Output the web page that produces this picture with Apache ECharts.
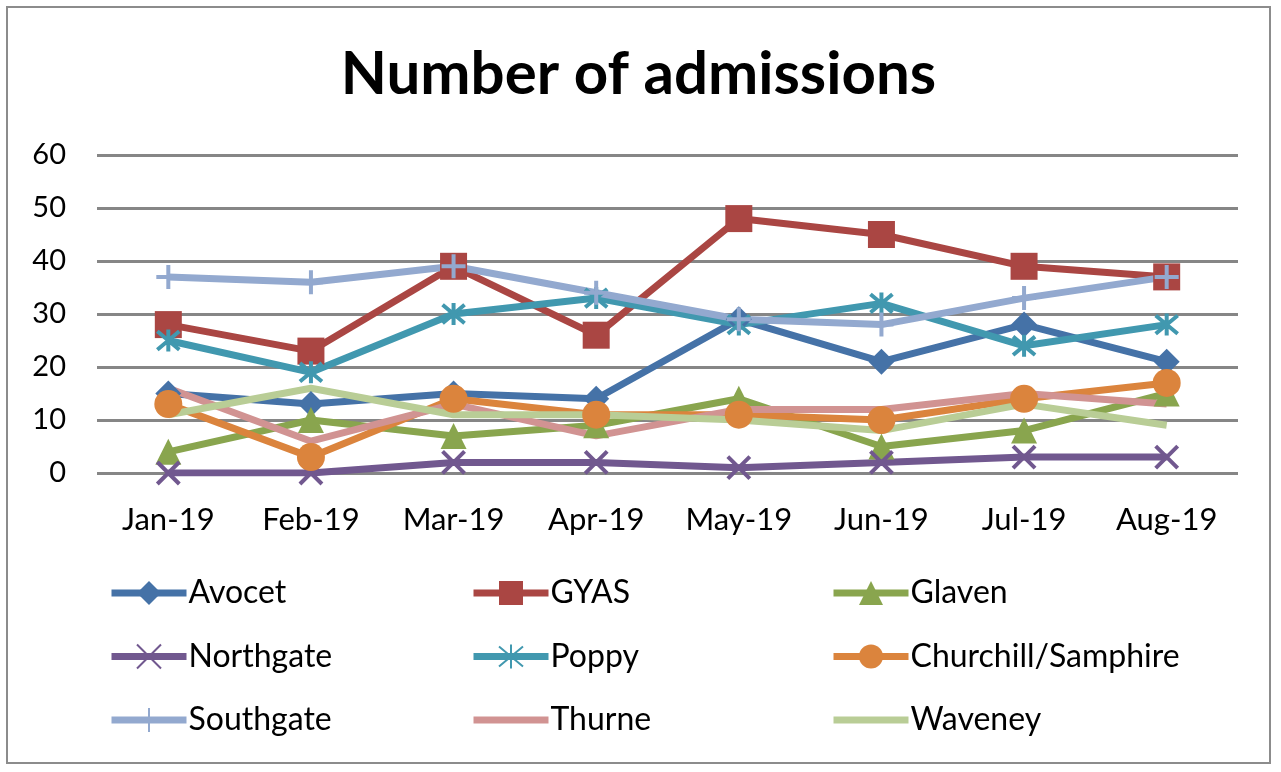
<!DOCTYPE html>
<html>
<head>
<meta charset="utf-8">
<script src="https://cdn.jsdelivr.net/npm/echarts@6/dist/echarts.min.js"></script>
<style>
  html, body { margin: 0; padding: 0; background: #fff; }
  #main { position: absolute; left: 6px; top: 6px; width: 1265px; height: 758px; border: 2px solid #8c8c8c; box-sizing: border-box; }
</style>
</head>
<body>
<div id="main"></div>
<script>
// chart data
var months = ['Jan-19', 'Feb-19', 'Mar-19', 'Apr-19', 'May-19', 'Jun-19', 'Jul-19', 'Aug-19'];
var avocet = [15, 13, 15, 14, 29, 21, 28, 21];
var gyas = [28, 23, 39, 26, 48, 45, 39, 37];
var glaven = [4, 10, 7, 9, 14, 5, 8, 15];
var northgate = [0, 0, 2, 2, 1, 2, 3, 3];
var poppy = [25, 19, 30, 33, 28, 32, 24, 28];
var churchill = [13, 3, 14, 11, 11, 10, 14, 17];
var southgate = [37, 36, 39, 34, 29, 28, 33, 37];
var thurne = [16, 6, 13, 7, 12, 12, 15, 13];
var waveney = [11, 16, 11, 11, 10, 8, 13, 9];

var FONT = 'Lato';

// symbols (open paths are drawn with the border stroke)
var xMark = 'path://M0 0 L10 10 M10 0 L0 10';
var starMark = 'path://M0 0 L10 10 M10 0 L0 10 M5 -1 L5 11';
var plusMark = 'path://M5 0 L5 10 M0 5 L10 5';

function mkSeries(name, data, color, symbol, size, stroke) {
    return {
        name: name,
        type: 'line',
        data: data,
        symbol: symbol,
        symbolSize: size,
        showSymbol: symbol !== 'none',
        lineStyle: { color: color, width: 7 },
        itemStyle: {
            color: stroke ? 'rgba(0,0,0,0)' : color,
            borderColor: color,
            borderWidth: stroke ? 4 : 0
        },
        emphasis: { disabled: true },
        animation: false
    };
}

var dom = document.getElementById('main');
var myChart = echarts.init(dom, null, { renderer: 'canvas' });

var legendBase = {
    orient: 'vertical',
    top: 569,
    padding: 0,
    itemWidth: 75,
    itemHeight: 30,
    itemGap: 31.5,
    lineStyle: { width: 7 },
    textStyle: { fontFamily: FONT, fontSize: 32, lineHeight: 30, color: '#000', padding: [0, 0, 0, -3] },
    selectedMode: false
};

var option = {
    title: {
        text: 'Number of admissions',
        left: 'center',
        top: 32,
        textStyle: { fontFamily: FONT, fontWeight: 'bold', fontSize: 60, color: '#000' }
    },
    legend: [
        Object.assign({}, legendBase, { left: 100, data: ['Avocet', 'Northgate', 'Southgate'] }),
        Object.assign({}, legendBase, { left: 462, data: ['GYAS', 'Poppy', { name: 'Thurne', itemStyle: { opacity: 0 } }] }),
        Object.assign({}, legendBase, { left: 822, data: ['Glaven', 'Churchill/Samphire', { name: 'Waveney', itemStyle: { opacity: 0 } }] })
    ],
    grid: { left: 89, right: 31, top: 147, bottom: 289 },
    xAxis: {
        type: 'category',
        data: months,
        axisLine: { show: false },
        axisTick: { show: false },
        axisLabel: { fontFamily: FONT, fontSize: 31, color: '#000', margin: 31, interval: 0 }
    },
    yAxis: {
        type: 'value',
        min: 0,
        max: 60,
        interval: 10,
        axisLine: { show: false },
        axisTick: { show: false },
        axisLabel: { fontFamily: FONT, fontSize: 29, color: '#000', margin: 31 },
        splitLine: { lineStyle: { color: '#868686', width: 3 } }
    },
    series: [
        mkSeries('Avocet', avocet, '#4572A7', 'diamond', 26, false),
        mkSeries('GYAS', gyas, '#AA4643', 'rect', 27, false),
        mkSeries('Glaven', glaven, '#89A54E', 'triangle', 26, false),
        mkSeries('Northgate', northgate, '#71588F', xMark, 22, true),
        mkSeries('Poppy', poppy, '#4198AF', starMark, 22, true),
        mkSeries('Churchill/Samphire', churchill, '#DB843D', 'circle', 28, false),
        mkSeries('Southgate', southgate, '#93A9CF', plusMark, 24, true),
        mkSeries('Thurne', thurne, '#D19392', 'none', 0, false),
        mkSeries('Waveney', waveney, '#B9CD96', 'none', 0, false)
    ]
};

myChart.setOption(option);
window.addEventListener('resize', myChart.resize);
</script>
</body>
</html>
